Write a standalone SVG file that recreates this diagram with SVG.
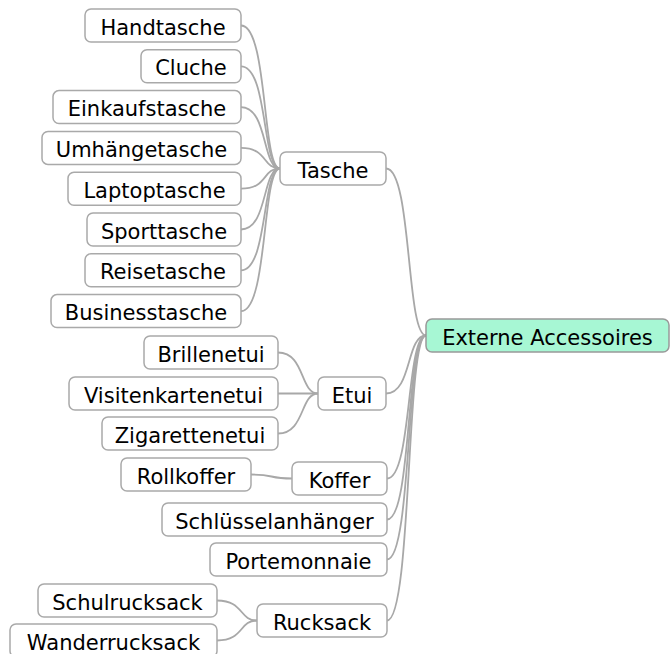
<svg xmlns="http://www.w3.org/2000/svg" width="672" height="654" viewBox="0 0 672 654">
  <style>
    .box { fill: #ffffff; stroke: #a9a9a9; stroke-width: 1.5; }
    .root .box { fill: #a7f7d4; stroke: #999999; }
    .lbl { font-family: "DejaVu Sans", "Liberation Sans", sans-serif; font-size: 21px; fill: #000000; text-anchor: middle; }
    .links path { fill: none; stroke: #a8a8a8; stroke-width: 1.8; }
  </style>
  <rect width="672" height="654" fill="#ffffff"/>

  <g class="links">
    <!-- Tasche branch -->
    <path d="M241 25.5 C268 25.5 262 168.5 280 168.5"/>
    <path d="M241 66.3 C268 66.3 262 168.5 280 168.5"/>
    <path d="M241 107.1 C268 107.1 262 168.5 280 168.5"/>
    <path d="M241 147.9 C268 147.9 262 168.5 280 168.5"/>
    <path d="M241 188.7 C268 188.7 262 168.5 280 168.5"/>
    <path d="M241 229.5 C268 229.5 262 168.5 280 168.5"/>
    <path d="M241 270.3 C268 270.3 262 168.5 280 168.5"/>
    <path d="M241 311.1 C268 311.1 262 168.5 280 168.5"/>
    <!-- Etui branch -->
    <path d="M278 352.5 C305 352.5 300 393.5 318 393.5"/>
    <path d="M278 393.5 L318 393.5"/>
    <path d="M278 433.5 C305 433.5 300 393.5 318 393.5"/>
    <!-- Koffer branch -->
    <path d="M251 474.5 C275 474.5 268 478.5 292 478.5"/>
    <!-- Rucksack branch -->
    <path d="M217 600.5 C244 600.5 239 620.5 257 620.5"/>
    <path d="M217 640.5 C244 640.5 239 620.5 257 620.5"/>
    <!-- root branches -->
    <path d="M386 168.5 C412 168.5 406 335.5 426 335.5"/>
    <path d="M386 393.5 C412 393.5 406 335.5 426 335.5"/>
    <path d="M387 478.5 C412 478.5 406 335.5 426 335.5"/>
    <path d="M387 519.5 C412 519.5 406 335.5 426 335.5"/>
    <path d="M387 559.5 C412 559.5 406 335.5 426 335.5"/>
    <path d="M387 620.5 C412 620.5 406 335.5 426 335.5"/>
  </g>

  <g id="root" class="root">
    <rect class="box" x="426" y="319" width="243" height="33" rx="6"/>
    <text class="lbl" x="547.5" y="344.5">Externe Accessoires</text>
  </g>

  <g id="tasche"><rect class="box" x="280" y="152" width="106" height="33" rx="6"/><text class="lbl" x="333" y="177.5">Tasche</text></g>
  <g id="handtasche"><rect class="box" x="85" y="9" width="156" height="33" rx="6"/><text class="lbl" x="163" y="34.5">Handtasche</text></g>
  <g id="cluche"><rect class="box" x="141" y="49.8" width="100" height="33" rx="6"/><text class="lbl" x="191" y="75.3">Cluche</text></g>
  <g id="einkaufstasche"><rect class="box" x="53" y="90.6" width="188" height="33" rx="6"/><text class="lbl" x="147" y="116.1">Einkaufstasche</text></g>
  <g id="umhaengetasche"><rect class="box" x="42" y="131.4" width="199" height="33" rx="6"/><text class="lbl" x="141.5" y="156.9">Umhängetasche</text></g>
  <g id="laptoptasche"><rect class="box" x="68" y="172.2" width="173" height="33" rx="6"/><text class="lbl" x="154.5" y="197.7">Laptoptasche</text></g>
  <g id="sporttasche"><rect class="box" x="87" y="213" width="154" height="33" rx="6"/><text class="lbl" x="164" y="238.5">Sporttasche</text></g>
  <g id="reisetasche"><rect class="box" x="85" y="253.8" width="156" height="33" rx="6"/><text class="lbl" x="163" y="279.3">Reisetasche</text></g>
  <g id="businesstasche"><rect class="box" x="51" y="294.6" width="190" height="33" rx="6"/><text class="lbl" x="146" y="320.1">Businesstasche</text></g>

  <g id="etui"><rect class="box" x="318" y="377" width="68" height="33" rx="6"/><text class="lbl" x="352" y="402.5">Etui</text></g>
  <g id="brillenetui"><rect class="box" x="144" y="336" width="134" height="33" rx="6"/><text class="lbl" x="211" y="361.5">Brillenetui</text></g>
  <g id="visitenkartenetui"><rect class="box" x="69" y="377" width="209" height="33" rx="6"/><text class="lbl" x="173.5" y="402.5">Visitenkartenetui</text></g>
  <g id="zigarettenetui"><rect class="box" x="102" y="417" width="176" height="33" rx="6"/><text class="lbl" x="190" y="442.5">Zigarettenetui</text></g>

  <g id="koffer"><rect class="box" x="292" y="462" width="95" height="33" rx="6"/><text class="lbl" x="339.5" y="487.5">Koffer</text></g>
  <g id="rollkoffer"><rect class="box" x="121" y="458" width="130" height="33" rx="6"/><text class="lbl" x="186" y="483.5">Rollkoffer</text></g>

  <g id="schluesselanhaenger"><rect class="box" x="162" y="503" width="225" height="33" rx="6"/><text class="lbl" x="274.5" y="528.5">Schlüsselanhänger</text></g>
  <g id="portemonnaie"><rect class="box" x="210" y="543" width="177" height="33" rx="6"/><text class="lbl" x="298.5" y="568.5">Portemonnaie</text></g>

  <g id="rucksack"><rect class="box" x="257" y="604" width="130" height="33" rx="6"/><text class="lbl" x="322" y="629.5">Rucksack</text></g>
  <g id="schulrucksack"><rect class="box" x="38" y="584" width="179" height="33" rx="6"/><text class="lbl" x="127.5" y="609.5">Schulrucksack</text></g>
  <g id="wanderrucksack"><rect class="box" x="10" y="624" width="207" height="33" rx="6"/><text class="lbl" x="113.5" y="649.5">Wanderrucksack</text></g>
</svg>
